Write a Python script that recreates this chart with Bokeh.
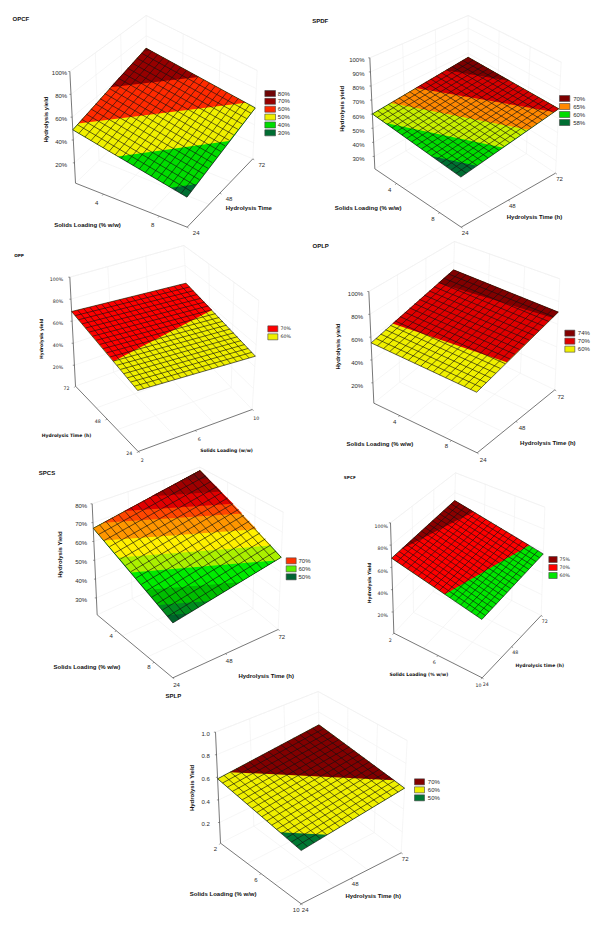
import numpy as np
from bokeh.plotting import figure
from bokeh.models import ColumnDataSource, Range1d
from bokeh.core.properties import value
from bokeh.embed import file_html
from bokeh.resources import INLINE

# ---------- chart values ----------
# corner order of every surface: left, front, right, back
DG, G, YG, Y = "#006e32", "#00dc00", "#b4f000", "#f0f000"
O, RO, R, DR, XR = "#ff8800", "#ff2a00", "#e60000", "#960000", "#6e0505"

opcf_yield = [48.9, 30.6, 58.6, 67.8]
opcf_shade = [48.3, 27.0, 48.0, 71.0]
opcf_cuts = [30, 40, 50, 60, 70]
opcf_colors = [DG, G, Y, RO, DR, XR]
opcf_legend = ["80%", "70%", "60%", "50%", "40%", "30%"]
opcf_legend_colors = [XR, DR, RO, Y, G, DG]

spdf_yield = [60.2, 54.1, 66.9, 66.9]
spdf_shade = [56.4, 46.9, 65.9, 75.4]
spdf_cuts = [50, 55, 60, 65, 71]
spdf_colors = [DG, G, "#c8f000", O, "#d80000", "#7d0000"]
spdf_legend = ["70%", "65%", "60%", "58%"]
spdf_legend_colors = ["#7d0000", O, G, DG]

opp_yield = [68.8, 52.8, 49.4, 62.2]
opp_shade = [72.7, 52.7, 47.4, 67.4]
opp_cuts = [60]
opp_colors = [Y, "#ff0000"]
opp_legend = ["70%", "60%"]
opp_legend_colors = ["#ff0000", Y]

oplp_yield = [55.0, 53.0, 70.7, 71.9]
oplp_shade = [55.3, 53.3, 71.3, 73.3]
oplp_cuts = [60, 70]
oplp_colors = [Y, "#e00000", "#820000"]
oplp_legend = ["74%", "70%", "60%"]
oplp_legend_colors = ["#820000", "#e00000", Y]

spcs_yield = [67.0, 48.0, 57.3, 78.0]
spcs_shade = [67.0, 48.0, 58.5, 78.0]
spcs_cuts = [49.5, 51.5, 54.5, 58, 61, 64.5, 68, 70.2, 73, 76]
spcs_colors = ["#00642a", "#008c1e", "#00be00", "#00eb00", "#aaf000", "#fff000", "#ff9600",
               "#ff4600", "#e10000", "#a00000", "#780a0a"]
spcs_legend = ["70%", "60%", "50%"]
spcs_legend_colors = ["#ff3200", "#5af000", "#006432"]

spcf_yield = [68.3, 52.0, 57.3, 72.0]
spcf_shade = [69.4, 53.5, 57.5, 73.4]
spcf_cuts = [60, 70]
spcf_colors = ["#00e600", "#ff0000", "#8c0000"]
spcf_legend = ["75%", "70%", "60%"]
spcf_legend_colors = ["#8c0000", "#ff0000", "#00e600"]

splp_yield = [0.587, 0.466, 0.583, 0.675]
splp_shade = [58.6, 47.1, 58.6, 70.1]
splp_cuts = [50, 60]
splp_colors = ["#007832", Y, "#820000"]
splp_legend = ["70%", "60%", "50%"]
splp_legend_colors = ["#820000", Y, "#007832"]

pct_100 = [100, 80, 60, 40, 20]
pct_100_labels = ["100%", "80%", "60%", "40%", "20%"]
spdf_z = [100, 90, 80, 70, 60, 50, 40, 30]
spdf_z_labels = ["100%", "90%", "80%", "70%", "60%", "50%", "40%", "30%"]
spcs_z = [80, 70, 60, 50, 40, 30]
spcs_z_labels = ["80%", "70%", "60%", "50%", "40%", "30%"]
splp_z = [1.0, 0.8, 0.6, 0.4, 0.2]
splp_z_labels = ["1.0", "0.8", "0.6", "0.4", "0.2"]
solids_48 = [4, 8]
solids_2610 = [2, 6, 10]
hours = [24, 48, 72]
hours_rev = [72, 48, 24]

# ---------- layout: crop origin, box corners (3x crop pixels) ----------
SANS = "Liberation Sans"
WIDE = "DejaVu Sans"
panels = [
    dict(name="OPCF", org=(0, 0), n=(19, 16), y=opcf_yield, sh=opcf_shade, cuts=opcf_cuts, col=opcf_colors,
         zr=(2.2, 100), zt=pct_100, ztl=pct_100_labels, zx=200, zo=5,
         b=[(225, 548), (560, 680), (757, 475), (437, 343)], t=[(208, 213), (558, 370), (770, 210), (437, 45)],
         sr=(2, 10), st=solids_48, so=(-20, 25), wr=(24, 72), wt=hours, wo=(27, 18),
         title=(36, 55), zl=("Hydrolysis yield", 135, 357), sl=("Solids Loading (% w/w)", 261, 672),
         wl=("Hydrolysis Time", 745, 623), lg=(793, 825, 270, 23.6, 18, 832), ll=opcf_legend, lc=opcf_legend_colors),
    dict(name="SPDF", org=(300, 0), n=(18, 18), y=spdf_yield, sh=spdf_shade, cuts=spdf_cuts, col=spdf_colors,
         zr=(21.2, 100), zt=spdf_z, ztl=spdf_z_labels, zx=192, zo=7,
         b=[(223, 505), (482, 680), (765, 518), (503, 343)], t=[(208, 172), (480, 320), (782, 185), (503, 45)],
         sr=(2, 10), st=solids_48, so=(-20, 19), wr=(24, 72), wt=hours, wo=(12, 18),
         title=(35, 62), zl=("Hydrolysis yield", 125, 325), sl=("Solids Loading (% w/w)", 203, 622),
         wl=("Hydrolysis Time (h)", 702, 650), lg=(777, 808, 285, 24, 18, 818), ll=spdf_legend, lc=spdf_legend_colors),
    dict(name="OPP", org=(0, 235), n=(19, 19), y=opp_yield, sh=opp_shade, cuts=opp_cuts, col=opp_colors,
         zr=(1, 100), zt=pct_100, ztl=pct_100_labels, zx=188, zo=8, wide=True,
         b=[(225, 452), (413, 648), (755, 522), (567, 326)], t=[(208, 125), (410, 298), (775, 195), (550, 30)],
         sr=(72, 24), st=hours_rev, so=(-27, 5), wr=(2, 10), wt=solids_2610, wo=(12, 26),
         title=(41, 60), zl=("Hydrolysis yield", 123, 310), sl=("Hydrolysis Time (h)", 198, 600),
         wl=("Solids Loading (w/w)", 678, 646), lg=(802, 832, 271, 24, 18, 840), ll=opp_legend, lc=opp_legend_colors),
    dict(name="OPLP", org=(300, 235), n=(17, 17), y=oplp_yield, sh=oplp_shade, cuts=oplp_cuts, col=oplp_colors,
         zr=(2.2, 100), zt=pct_100, ztl=pct_100_labels, zx=188, zo=8,
         b=[(220, 503), (530, 652), (763, 463), (453, 314)], t=[(205, 168), (527, 302), (778, 130), (462, 18)],
         sr=(2, 10), st=solids_48, so=(-15, 18), wr=(24, 72), wt=hours, wo=(18, 20),
         title=(36, 30), zl=("Hydrolysis yield", 113, 333), sl=("Solids Loading (% w/w)", 238, 625),
         wl=("Hydrolysis Time (h)", 742, 622), lg=(793, 823, 284, 24, 18, 832), ll=oplp_legend, lc=oplp_legend_colors),
    dict(name="SPCS", org=(0, 465), n=(15, 17), y=spcs_yield, sh=spcs_shade, cuts=spcs_cuts, col=spcs_colors,
         zr=(21, 80), zt=spcs_z, ztl=spcs_z_labels, zx=260, zo=5,
         b=[(290, 448), (517, 637), (833, 492), (606, 303)], t=[(275, 115), (517, 277), (848, 140), (598, 5)],
         sr=(2, 10), st=solids_48, so=(-15, 16), wr=(24, 72), wt=hours, wo=(11, 21),
         title=(115, 22), zl=("Hydrolysis Yield", 177, 267), sl=("Solids Loading (% w/w)", 259, 603),
         wl=("Hydrolysis Time (h)", 797, 630), lg=(857, 887, 277, 24, 18, 894), ll=spcs_legend, lc=spcs_legend_colors),
    dict(name="SPCF", org=(300, 465), n=(17, 17), y=spcf_yield, sh=spcf_shade, cuts=spcf_cuts, col=spcf_colors,
         zr=(1, 100), zt=pct_100, ztl=pct_100_labels, zx=262, zo=11, wide=True,
         b=[(280, 503), (545, 637), (722, 450), (457, 316)], t=[(270, 172), (543, 297), (733, 125), (465, 22)],
         sr=(2, 10), st=solids_2610, so=(-11, 20), wr=(24, 72), wt=hours, wo=(11, 17),
         title=(130, 36), zl=("Hydrolysis Yield", 207, 352), sl=("Solids Loading (% w/w)", 355, 627),
         wl=("Hydrolysis time (h)", 718, 601), lg=(745, 770, 273, 24, 18, 777), ll=spcf_legend, lc=spcf_legend_colors),
    dict(name="SPLP", org=(150, 680), n=(17, 16), y=splp_yield, sh=splp_shade, cuts=splp_cuts, col=splp_colors,
         zr=(0.017, 1.0), zt=splp_z, ztl=splp_z_labels, zx=178, zo=5,
         b=[(210, 488), (452, 670), (752, 517), (510, 335)], t=[(195, 155), (452, 320), (770, 180), (503, 33)],
         sr=(2, 10), st=solids_2610, so=(-15, 18), wr=(24, 72), wt=hours, wo=(12, 18),
         title=(45, 47), zl=("Hydrolysis Yield", 125, 322), sl=("Solids Loading (% w/w)", 218, 640),
         wl=("Hydrolysis Time (h)", 668, 647), lg=(792, 822, 295, 24, 18, 832), ll=splp_legend, lc=splp_legend_colors),
]

p = figure(width=600, height=927, x_range=Range1d(0, 600), y_range=Range1d(927, 0),
           x_axis_type=None, y_axis_type=None, toolbar_location=None, output_backend="svg",
           min_border=0, outline_line_color=None, background_fill_color="white")


def bil(c, s, w):
    c = np.asarray(c, float)
    return (1 - s) * (1 - w) * c[0] + s * (1 - w) * c[1] + s * w * c[2] + (1 - s) * w * c[3]


def clip_quad(sh, cut):
    """Region of the unit square where the bilinear field is >= cut."""
    sq = [(0.0, 0.0), (1.0, 0.0), (1.0, 1.0), (0.0, 1.0)]
    out = []
    for i in range(4):
        a, b = sq[i], sq[(i + 1) % 4]
        fa, fb = sh[i], sh[(i + 1) % 4]
        if fa >= cut:
            out.append(a)
        if (fa >= cut) != (fb >= cut):
            k = (cut - fa) / (fb - fa)
            out.append((a[0] + k * (b[0] - a[0]), a[1] + k * (b[1] - a[1])))
    return out


def text(x, y, s, size, font=SANS, bold=False, color="#2a2a2a", align="center", angle=0.0):
    p.text([x], [y], text=[s], text_font=value(font), text_font_size=f"{size:.1f}px",
           text_font_style="bold" if bold else "normal", text_color=color,
           text_align=align, text_baseline="middle", angle=angle)


for P in panels:
    ox, oy = P["org"]
    page = lambda q: np.array([ox + q[0] / 3.0, oy + q[1] / 3.0])
    base = [page(q) for q in P["b"]]
    top = [page(q) for q in P["t"]]
    z0, z1 = P["zr"]

    def proj(s, w, z):
        t = (z - z0) / (z1 - z0)
        return bil(base, s, w) * (1 - t) + bil(top, s, w) * t

    wide = P.get("wide", False)
    font = WIDE if wide else SANS
    ts, ls = (4.7, 4.5) if wide else (6.0, 6.0)

    # faint box walls
    wx, wy = [], []
    def seg(a, b):
        wx.append([a[0], b[0]]); wy.append([a[1], b[1]])
    seg(top[0], top[3]); seg(top[3], top[2]); seg(top[2], base[2]); seg(top[3], base[3])
    seg(base[0], base[3]); seg(base[2], base[3])
    for f in (1 / 3, 2 / 3):
        seg(proj(f, 1, z0), proj(f, 1, z1)); seg(proj(0, f, z0), proj(0, f, z1))
        seg(proj(f, 0, z0), proj(f, 1, z0)); seg(proj(0, f, z0), proj(1, f, z0))
    for z in P["zt"]:
        seg(proj(0, 0, z), proj(0, 1, z)); seg(proj(0, 1, z), proj(1, 1, z))
    p.multi_line(wx, wy, line_color="#f0f0f0", line_width=0.6)

    # main axes
    ax = [base[0], base[1], base[2]]
    p.line([q[0] for q in ax], [q[1] for q in ax], line_color="#555555", line_width=0.8)
    p.line([base[0][0], top[0][0]], [base[0][1], top[0][1]], line_color="#555555", line_width=0.8)

    # z ticks
    for z, lab in zip(P["zt"], P["ztl"]):
        q = proj(0, 0, z)
        p.line([q[0] - 1.6, q[0]], [q[1], q[1]], line_color="#555555", line_width=0.6)
        text(ox + P["zx"] / 3.0, q[1] + P["zo"] / 3.0, lab, ts, font, align="right")

    # floor axis ticks
    sa, sb = P["sr"]
    for v in P["st"]:
        f = (v - sa) / (sb - sa)
        q = bil(base, f, 0)
        p.line([q[0], q[0] - 1.2], [q[1], q[1] + 1.4], line_color="#555555", line_width=0.6)
        text(q[0] + P["so"][0] / 3.0, q[1] + P["so"][1] / 3.0, str(v), ts, font)
    wa, wb = P["wr"]
    for v in P["wt"]:
        f = (v - wa) / (wb - wa)
        q = bil(base, 1, f)
        p.line([q[0], q[0] + 1.4], [q[1], q[1] + 1.0], line_color="#555555", line_width=0.6)
        text(q[0] + P["wo"][0] / 3.0, q[1] + P["wo"][1] / 3.0, str(v), ts, font)

    # surface: nested colour regions, lowest band first
    xs, ys, cs = [], [], []
    for cut, colour in zip([-1e9] + list(P["cuts"]), P["col"]):
        poly = clip_quad(P["sh"], cut)
        if len(poly) < 3:
            continue
        pts = [proj(s, w, bil(P["y"], s, w)) for s, w in poly]
        xs.append([q[0] for q in pts]); ys.append([q[1] for q in pts]); cs.append(colour)
    p.patches(xs="x", ys="y", fill_color="c", line_color=None,
              source=ColumnDataSource(dict(x=xs, y=ys, c=cs)))

    # mesh
    ns, nw = P["n"]
    mx, my = [], []
    for i in range(ns + 1):
        f = i / ns
        a, b = proj(f, 0, bil(P["y"], f, 0)), proj(f, 1, bil(P["y"], f, 1))
        mx.append([a[0], b[0]]); my.append([a[1], b[1]])
    for i in range(nw + 1):
        f = i / nw
        a, b = proj(0, f, bil(P["y"], 0, f)), proj(1, f, bil(P["y"], 1, f))
        mx.append([a[0], b[0]]); my.append([a[1], b[1]])
    p.multi_line(mx, my, line_color="#111111", line_width=0.8, line_alpha=0.8)

    # texts
    text(ox + P["title"][0] / 3.0, oy + P["title"][1] / 3.0, P["name"], ls - (0.3 if wide else 0), font,
         True, "#111111", align="left")
    s, x, y = P["zl"]
    text(ox + x / 3.0, oy + y / 3.0, s, ls, font, True, "#111111", angle=np.pi / 2)
    for key in ("sl", "wl"):
        s, x, y = P[key]
        text(ox + x / 3.0, oy + y / 3.0, s, ls, font, True, "#111111")

    # legend
    x0, x1, y0, step, h, tx = P["lg"]
    for i, (lab, colour) in enumerate(zip(P["ll"], P["lc"])):
        yt = y0 + i * step
        p.quad(left=[ox + x0 / 3.0], right=[ox + x1 / 3.0], top=[oy + yt / 3.0], bottom=[oy + (yt + h) / 3.0],
               fill_color=colour, line_color="#444444", line_width=0.6)
        text(ox + tx / 3.0, oy + (yt + h / 2) / 3.0, lab, ts, font, align="left")

open("out.html", "w").write(file_html(p, INLINE))
